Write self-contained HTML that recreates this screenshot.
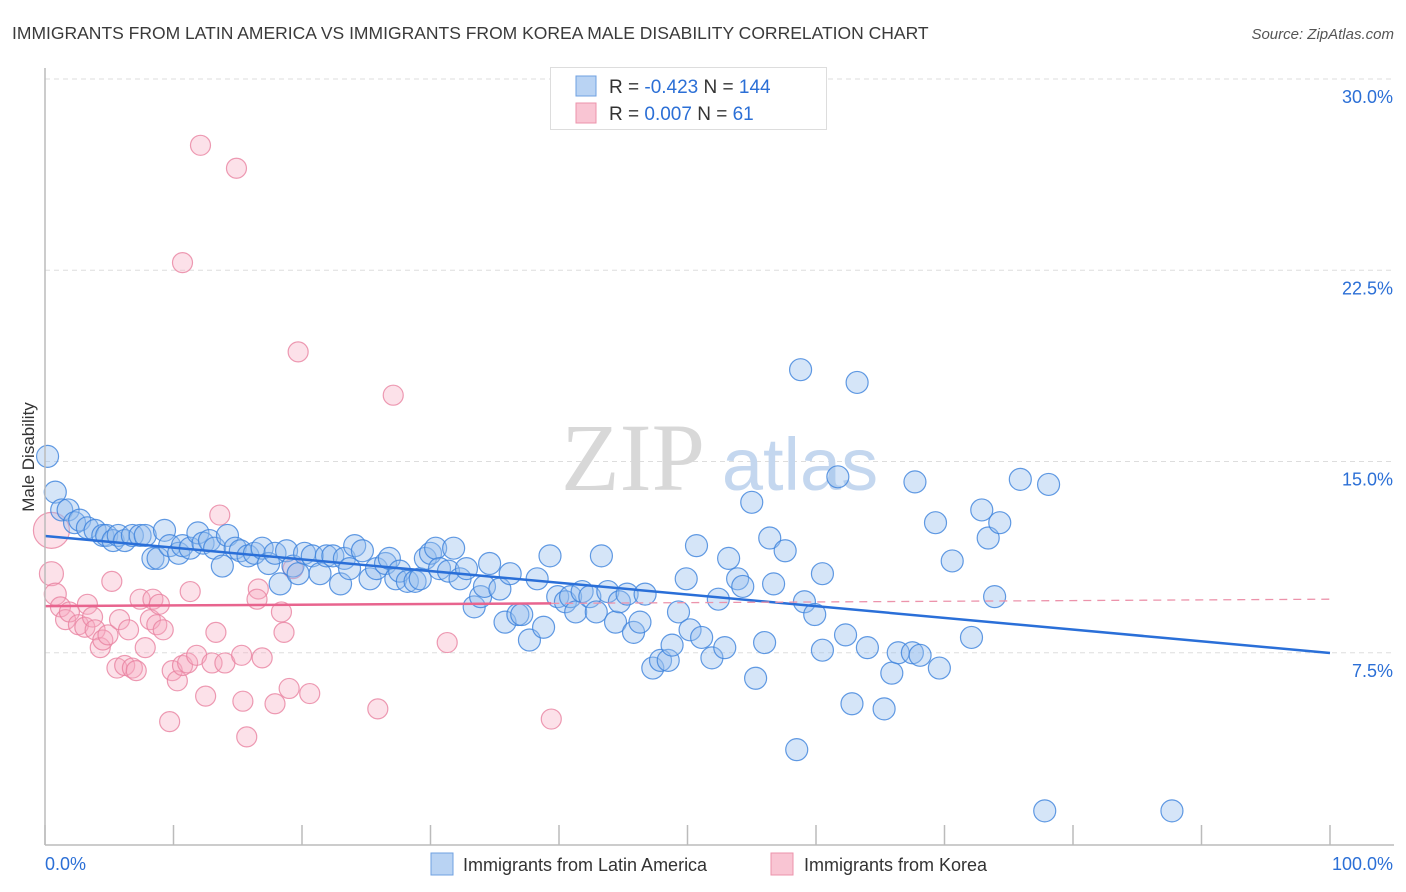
<!DOCTYPE html>
<html><head><meta charset="utf-8">
<style>
body{margin:0;background:#fff;font-family:"Liberation Sans",sans-serif;}
#wrap{position:relative;width:1406px;height:892px;overflow:hidden;}
</style></head>
<body>
<div id="wrap">
<svg id="chart" width="1406" height="892" xmlns="http://www.w3.org/2000/svg">
<text x="12" y="39" font-size="17.5" fill="#3a3a3a">IMMIGRANTS FROM LATIN AMERICA VS IMMIGRANTS FROM KOREA MALE DISABILITY CORRELATION CHART</text>
<text x="1394" y="39" font-size="15" fill="#555" font-style="italic" text-anchor="end">Source: ZipAtlas.com</text>
<g id="grid"></g>
<g>
<text x="633" y="490" font-size="96" font-family="Liberation Serif,serif" fill="#d8d8d8" text-anchor="middle">ZIP</text>
<text x="800" y="490" font-size="74" fill="#c4d7ef" text-anchor="middle">atlas</text>
</g>
<g id="pts"></g>
<g id="trends"></g>
<line x1="45" y1="68" x2="45" y2="845" stroke="#bbb" stroke-width="1.5"/>
<line x1="45" y1="845" x2="1394" y2="845" stroke="#bbb" stroke-width="1.5"/>
<g id="axes"></g>
<text x="0" y="0" transform="translate(34,457) rotate(-90)" font-size="17" fill="#333" text-anchor="middle">Male Disability</text>
<g>
<rect x="550.5" y="67.5" width="276" height="62" fill="#fff" stroke="#ddd"/>
<rect x="576" y="76" width="20" height="20" fill="#b9d3f3" stroke="#6fa0e0"/>
<rect x="576" y="103" width="20" height="20" fill="#f9c5d3" stroke="#ec93ab"/>
<text x="609" y="93" font-size="19" fill="#333">R = <tspan fill="#2b6fd6">-0.423</tspan>   N = <tspan fill="#2b6fd6">144</tspan></text>
<text x="609" y="120" font-size="19" fill="#333">R =  <tspan fill="#2b6fd6">0.007</tspan>   N =   <tspan fill="#2b6fd6">61</tspan></text>
</g>
<g>
<rect x="431" y="853" width="22" height="22" fill="#b9d3f3" stroke="#6fa0e0"/>
<text x="463" y="871" font-size="18" fill="#333">Immigrants from Latin America</text>
<rect x="771" y="853" width="22" height="22" fill="#f9c5d3" stroke="#ec93ab"/>
<text x="804" y="871" font-size="18" fill="#333">Immigrants from Korea</text>
</g>
</svg>
</div>
<script>
const blueX=[0.2,0.8,1.3,1.8,2.3,2.7,3.3,3.9,4.5,4.8,5.3,5.7,6.2,6.8,7.4,7.8,8.4,8.8,9.3,9.7,10.4,10.7,11.3,11.9,12.3,12.8,13.2,13.8,14.2,14.8,15.2,15.8,16.3,16.9,17.4,17.9,18.3,18.8,19.3,19.7,20.2,20.8,21.4,21.9,22.4,23.0,23.3,23.7,24.1,24.7,25.3,25.8,26.5,26.8,27.3,27.6,28.2,28.8,29.2,29.6,30.0,30.4,30.7,31.4,31.8,32.3,32.8,33.4,33.9,34.2,34.6,35.4,35.8,36.2,36.8,37.1,37.7,38.3,38.8,39.3,39.9,40.5,40.9,41.3,41.8,42.4,42.9,43.3,43.8,44.4,44.7,45.3,45.8,46.3,46.7,47.3,47.9,48.5,48.8,49.3,49.9,50.2,50.7,51.1,51.9,52.4,52.9,53.2,53.9,54.3,55.0,55.3,56.0,56.4,56.7,57.6,58.5,58.8,59.1,59.9,60.5,60.5,61.7,62.3,62.8,63.2,64.0,65.3,65.9,66.4,67.5,67.7,68.1,69.3,69.6,70.6,72.1,72.9,73.4,73.9,74.3,75.9,77.8,78.1,87.7];
const blueY=[15.2,13.8,13.1,13.1,12.6,12.7,12.4,12.3,12.1,12.1,11.9,12.1,11.9,12.1,12.1,12.1,11.2,11.2,12.3,11.7,11.4,11.7,11.6,12.2,11.8,11.9,11.6,10.9,12.1,11.6,11.5,11.3,11.4,11.6,11.0,11.4,10.2,11.5,10.9,10.6,11.4,11.3,10.6,11.3,11.3,10.2,11.2,10.8,11.7,11.5,10.4,10.8,11.0,11.2,10.4,10.7,10.3,10.3,10.4,11.2,11.4,11.6,10.8,10.7,11.6,10.4,10.8,9.3,9.7,10.1,11.0,10.0,8.7,10.6,9.0,9.0,8.0,10.4,8.5,11.3,9.7,9.5,9.7,9.1,9.9,9.7,9.1,11.3,9.9,8.7,9.5,9.8,8.3,8.7,9.8,6.9,7.2,7.2,7.8,9.1,10.4,8.4,11.7,8.1,7.3,9.6,7.7,11.2,10.4,10.1,13.4,6.5,7.9,12.0,10.2,11.5,3.7,18.6,9.5,9.0,7.6,10.6,14.4,8.2,5.5,18.1,7.7,5.3,6.7,7.5,7.5,14.2,7.4,12.6,6.9,11.1,8.1,13.1,12.0,9.7,12.6,14.3,1.3,14.1,1.3];
const pinkX=[0.5,0.5,0.8,1.2,1.6,1.9,2.6,3.1,3.3,3.7,3.9,4.3,4.5,4.9,5.2,5.6,5.8,6.2,6.5,6.8,7.1,7.4,7.8,8.2,8.4,8.7,8.9,9.2,9.7,9.9,10.3,10.7,11.1,11.3,11.8,12.1,12.5,13.0,13.3,13.6,14.0,14.9,15.3,15.4,15.7,16.6,16.5,16.9,17.9,18.4,18.6,19.0,19.3,19.7,20.6,25.9,27.1,31.3,39.4,10.7];
const pinkY=[12.3,10.6,9.8,9.3,8.8,9.1,8.6,8.5,9.4,8.9,8.4,7.7,8.0,8.2,10.3,6.9,8.8,7.0,8.4,6.9,6.8,9.6,7.7,8.8,9.6,8.6,9.4,8.4,4.8,6.8,6.4,7.0,7.1,9.9,7.4,27.4,5.8,7.1,8.3,12.9,7.1,26.5,7.4,5.6,4.2,10.0,9.6,7.3,5.5,9.1,8.3,6.1,10.8,19.3,5.9,5.3,17.6,7.9,4.9,22.8];
const pinkR=[18,12,11,10,10,10,10,10,10,10,10,10,10,10,10,10,10,10,10,10,10,10,10,10,10,10,10,10,10,10,10,10,10,10,10,10,10,10,10,10,10,10,10,10,10,10,10,10,10,10,10,10,10,10,10,10,10,10,10,10];
const blueTrend=[12.08,7.49];
const pinkTrend=[9.33,9.6];
const pinkSolidEnd=39.4;
const yTicks=[7.5,15,22.5,30];
const yTickLabels=["7.5%","15.0%","22.5%","30.0%"];
const xTicks=[0,10,20,30,40,50,60,70,80,90,100];

const NS="http://www.w3.org/2000/svg";
function xs(v){return 45+v*12.85;}
function ys(v){return 844-v*25.5;}
function mk(tag,attrs,parent){const e=document.createElementNS(NS,tag);for(const k in attrs)e.setAttribute(k,attrs[k]);parent.appendChild(e);return e;}
const grid=document.getElementById('grid'),axes=document.getElementById('axes'),pts=document.getElementById('pts'),tr=document.getElementById('trends');
yTicks.forEach((t,i)=>{
  const l=mk('line',{x1:45,x2:1394,y1:ys(t),y2:ys(t),stroke:'#ddd','stroke-dasharray':'5,4'},grid);
  
  
  const tx=mk('text',{x:1393,y:ys(t)+24,'font-size':18,fill:'#2b6fd6','text-anchor':'end'},axes);
  tx.textContent=yTickLabels[i];
  
  
});
xTicks.forEach(t=>{
  const l=mk('line',{x1:xs(t),x2:xs(t),y1:825,y2:845,stroke:'#bbb','stroke-width':1.5},axes);
  
  
});
const xl0=mk('text',{x:45,y:870,'font-size':18,fill:'#2b6fd6'},axes);
xl0.textContent='0.0%';


const xl1=mk('text',{x:1393,y:870,'font-size':18,fill:'#2b6fd6','text-anchor':'end'},axes);
xl1.textContent='100.0%';



pinkX.forEach((v,i)=>{
  const c=mk('circle',{cx:xs(v),cy:ys(pinkY[i]),r:pinkR[i],fill:'rgba(246,170,192,0.35)',stroke:'rgba(232,130,160,0.8)','stroke-width':1.2},pts);
  
  
});
blueX.forEach((v,i)=>{
  const c=mk('circle',{cx:xs(v),cy:ys(blueY[i]),r:11,fill:'rgba(150,190,238,0.4)',stroke:'rgba(60,130,220,0.8)','stroke-width':1.2},pts);
  
  
});
function trendAt(tn,x){return tn[0]+(tn[1]-tn[0])*x/100;}
const bl=mk('line',{x1:xs(0),y1:ys(blueTrend[0]),x2:xs(100),y2:ys(blueTrend[1]),stroke:'#2a6fd8','stroke-width':2.5},tr);


const pl=mk('line',{x1:xs(0),y1:ys(pinkTrend[0]),x2:xs(pinkSolidEnd),y2:ys(trendAt(pinkTrend,pinkSolidEnd)),stroke:'#e8648e','stroke-width':2.5},tr);


const pd=mk('line',{x1:xs(pinkSolidEnd),y1:ys(trendAt(pinkTrend,pinkSolidEnd)),x2:xs(100),y2:ys(pinkTrend[1]),stroke:'#ec93ab','stroke-width':1.3,'stroke-dasharray':'8,6'},tr);


</script>
</body></html>
